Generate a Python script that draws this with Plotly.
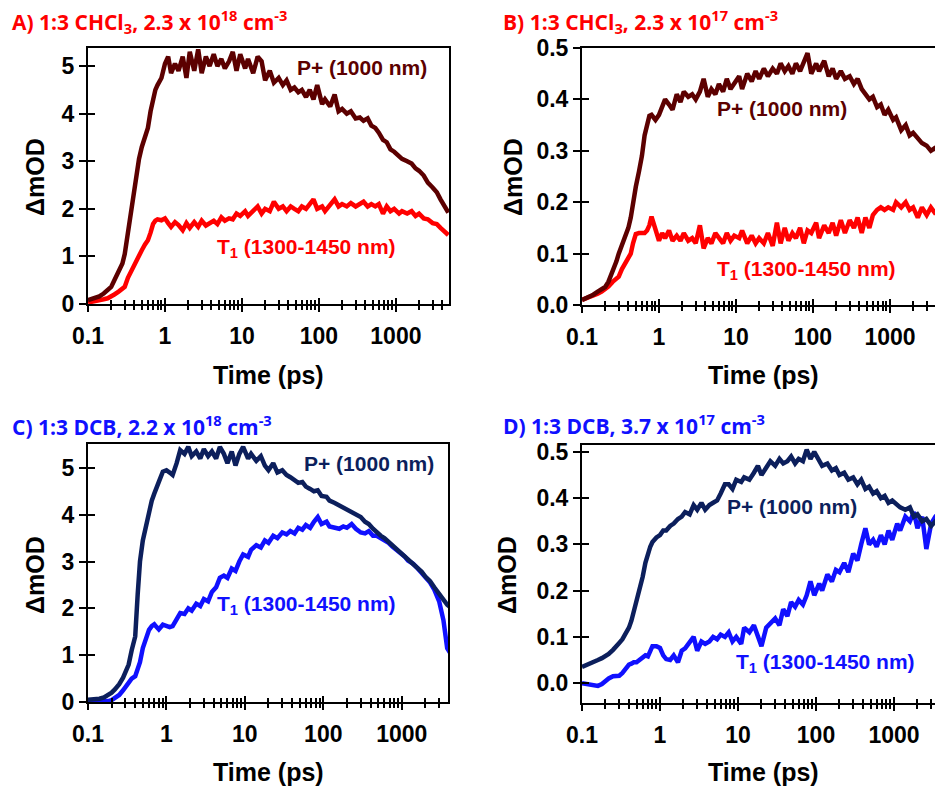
import plotly.graph_objects as go

# ---------------- data ----------------
time_ps = [0.10, 0.12, 0.14, 0.16, 0.18, 0.20, 0.22, 0.25, 0.28, 0.30, 0.33, 0.36, 0.40, 0.43, 0.46,
           0.50, 0.55, 0.60, 0.65, 0.70, 0.75, 0.80, 0.90, 1.0, 1.1, 1.2, 1.35, 1.5, 1.7, 1.9, 2.1,
           2.4, 2.7, 3.0, 3.4, 3.8, 4.3, 4.8, 5.4, 6.0, 6.8, 7.6, 8.5, 9.5, 11, 12, 14, 16, 18, 20,
           23, 26, 30, 34, 38, 43, 48, 54, 60, 68, 76, 85, 95, 110, 120, 140, 160, 180, 200, 230,
           260, 300, 340, 380, 430, 480, 540, 600, 680, 760, 850, 950, 1100, 1200, 1400, 1600,
           1800, 2000, 2300, 2600, 3000, 3400, 3800, 4300, 4800]

a_pplus = [0.08, 0.12, 0.16, 0.22, 0.28, 0.36, 0.5, 0.7, 0.85, 1.05, 1.5, 1.95, 2.45, 2.75, 3.05,
           3.3, 3.5, 3.7, 4.05, 4.35, 4.5, 4.6, 4.75, 5.05, 5.2, 4.85, 5.05, 4.9, 5.2, 4.75, 5.3,
           4.9, 5.35, 4.85, 5.2, 5.0, 5.25, 5.0, 5.15, 4.95, 5.1, 5.3, 4.9, 5.25, 4.95, 5.15, 4.85,
           5.2, 5.1, 4.7, 4.9, 4.65, 4.75, 4.6, 4.7, 4.5, 4.55, 4.45, 4.5, 4.35, 4.5, 4.3, 4.6,
           4.2, 4.3, 4.15, 4.4, 4.05, 4.1, 4.0, 4.05, 3.9, 3.92, 3.85, 3.9, 3.75, 3.7, 3.6, 3.45,
           3.4, 3.25, 3.2, 3.1, 3.05, 3.0, 2.95, 2.85, 2.8, 2.7, 2.55, 2.45, 2.35, 2.2, 2.05, 1.92]
a_t1 = [0.03, 0.05, 0.07, 0.1, 0.12, 0.15, 0.2, 0.26, 0.32, 0.36, 0.55, 0.68, 0.85, 0.95, 1.05,
        1.13, 1.25, 1.34, 1.5, 1.68, 1.75, 1.78, 1.76, 1.8, 1.7, 1.62, 1.72, 1.66, 1.55, 1.7, 1.6,
        1.72, 1.62, 1.75, 1.65, 1.7, 1.75, 1.68, 1.82, 1.75, 1.8, 1.78, 1.9, 1.85, 1.95, 1.85, 1.95,
        2.05, 1.9, 2.0, 1.95, 2.15, 2.0, 2.05, 1.95, 2.05, 2.0, 1.95, 2.05, 2.0, 2.1, 2.2, 2.0,
        2.05, 1.95, 2.1, 2.2, 2.05, 2.1, 2.05, 2.12, 2.05, 2.1, 2.15, 2.05, 2.1, 2.05, 2.1, 1.9,
        2.05, 1.95, 2.0, 1.9, 1.95, 1.9, 1.95, 1.85, 1.9, 1.8, 1.78, 1.7, 1.68, 1.6, 1.52, 1.45]

b_pplus = [0.01, 0.015, 0.02, 0.026, 0.03, 0.035, 0.045, 0.065, 0.085, 0.1, 0.115, 0.13, 0.15, 0.17,
           0.2, 0.23, 0.26, 0.29, 0.33, 0.355, 0.368, 0.37, 0.36, 0.37, 0.385, 0.40, 0.39, 0.38, 0.41,
           0.395, 0.415, 0.405, 0.41, 0.4, 0.415, 0.44, 0.405, 0.42, 0.41, 0.43, 0.415, 0.44, 0.42,
           0.43, 0.445, 0.42, 0.45, 0.435, 0.455, 0.44, 0.46, 0.445, 0.46, 0.45, 0.47, 0.455, 0.465,
           0.45, 0.47, 0.455, 0.475, 0.49, 0.45, 0.47, 0.455, 0.475, 0.445, 0.46, 0.44, 0.455, 0.44,
           0.445, 0.43, 0.44, 0.42, 0.41, 0.4, 0.405, 0.385, 0.39, 0.37, 0.38, 0.36, 0.365, 0.34,
           0.35, 0.33, 0.335, 0.325, 0.315, 0.31, 0.3, 0.305, 0.3, 0.3]
b_t1 = [0.01, 0.014, 0.018, 0.022, 0.026, 0.03, 0.036, 0.045, 0.05, 0.055, 0.07, 0.08, 0.088, 0.1,
        0.12, 0.138, 0.14, 0.14, 0.14, 0.145, 0.155, 0.172, 0.15, 0.125, 0.14, 0.13, 0.145, 0.125,
        0.135, 0.125, 0.14, 0.125, 0.13, 0.12, 0.155, 0.11, 0.13, 0.12, 0.14, 0.13, 0.12, 0.14,
        0.125, 0.135, 0.13, 0.145, 0.12, 0.135, 0.12, 0.13, 0.12, 0.14, 0.115, 0.16, 0.12, 0.15,
        0.125, 0.14, 0.13, 0.15, 0.12, 0.145, 0.14, 0.16, 0.13, 0.155, 0.14, 0.16, 0.135, 0.165,
        0.14, 0.165, 0.15, 0.17, 0.14, 0.17, 0.15, 0.175, 0.185, 0.19, 0.185, 0.19, 0.185, 0.2,
        0.19, 0.2, 0.185, 0.19, 0.17, 0.19, 0.175, 0.19, 0.18, 0.185, 0.18]

c_pplus = [0.05, 0.06, 0.07, 0.1, 0.14, 0.2, 0.27, 0.38, 0.52, 0.62, 0.8, 1.1, 1.4, 2.3, 3.0, 3.45,
           3.8, 4.1, 4.3, 4.45, 4.6, 4.7, 4.92, 4.95, 4.9, 4.85, 5.1, 5.38, 5.3, 5.45, 5.25, 5.35,
           5.2, 5.4, 5.25, 5.35, 5.2, 5.45, 5.3, 5.1, 5.35, 5.05, 5.3, 5.45, 5.2, 5.3, 5.15, 5.25,
           5.05, 4.95, 5.1, 4.9, 4.95, 4.85, 4.8, 4.75, 4.68, 4.7, 4.6, 4.55, 4.5, 4.52, 4.4, 4.38,
           4.3, 4.25, 4.2, 4.15, 4.12, 4.05, 4.0, 3.95, 3.85, 3.8, 3.7, 3.62, 3.55, 3.5, 3.42, 3.35,
           3.28, 3.22, 3.12, 3.05, 2.95, 2.88, 2.78, 2.68, 2.58, 2.45, 2.3, 2.18, 2.08, 2.0, 1.95]
c_t1 = [0.0, 0.0, 0.01, 0.01, 0.02, 0.04, 0.08, 0.15, 0.25, 0.33, 0.42, 0.5, 0.55, 0.68, 0.85, 1.15,
        1.38, 1.54, 1.62, 1.66, 1.6, 1.55, 1.65, 1.62, 1.6, 1.62, 1.75, 1.9, 1.88, 2.0, 1.95, 2.1,
        2.05, 2.2, 2.15, 2.35, 2.45, 2.65, 2.7, 2.65, 2.85, 2.8, 3.0, 3.15, 3.1, 3.25, 3.35, 3.3,
        3.45, 3.4, 3.55, 3.5, 3.62, 3.58, 3.65, 3.6, 3.72, 3.68, 3.78, 3.72, 3.85, 3.95, 3.8, 3.85,
        3.75, 3.72, 3.7, 3.75, 3.72, 3.8, 3.7, 3.62, 3.6, 3.65, 3.55, 3.55, 3.5, 3.45, 3.4, 3.32,
        3.25, 3.2, 3.1, 3.02, 2.95, 2.85, 2.75, 2.65, 2.55, 2.4, 2.15, 1.75, 1.15, 1.0, 1.0]

d_pplus = [0.035, 0.04, 0.045, 0.05, 0.054, 0.058, 0.063, 0.072, 0.08, 0.087, 0.095, 0.105, 0.12,
           0.135, 0.155, 0.18, 0.2, 0.23, 0.26, 0.28, 0.295, 0.305, 0.315, 0.32, 0.33, 0.33, 0.34,
           0.345, 0.355, 0.36, 0.37, 0.365, 0.385, 0.375, 0.39, 0.375, 0.385, 0.39, 0.395, 0.41,
           0.43, 0.43, 0.42, 0.44, 0.435, 0.445, 0.44, 0.455, 0.47, 0.45, 0.465, 0.48, 0.47, 0.485,
           0.475, 0.48, 0.49, 0.475, 0.485, 0.48, 0.505, 0.485, 0.5, 0.48, 0.47, 0.475, 0.46, 0.465,
           0.45, 0.455, 0.44, 0.445, 0.43, 0.44, 0.42, 0.425, 0.41, 0.415, 0.4, 0.405, 0.39, 0.395,
           0.385, 0.38, 0.375, 0.38, 0.36, 0.365, 0.35, 0.355, 0.34, 0.35, 0.34, 0.345, 0.34]
d_t1 = [0.0, -0.002, -0.006, -0.006, -0.002, 0.005, 0.01, 0.015, 0.015, 0.016, 0.022, 0.03, 0.04,
        0.042, 0.045, 0.045, 0.05, 0.055, 0.06, 0.058, 0.07, 0.08, 0.08, 0.076, 0.06, 0.052, 0.05,
        0.06, 0.045, 0.07, 0.075, 0.09, 0.1, 0.07, 0.09, 0.085, 0.09, 0.1, 0.095, 0.105, 0.1, 0.11,
        0.09, 0.1, 0.085, 0.12, 0.11, 0.125, 0.1, 0.08, 0.12, 0.13, 0.14, 0.125, 0.16, 0.145, 0.175,
        0.165, 0.18, 0.17, 0.19, 0.22, 0.19, 0.215, 0.2, 0.235, 0.22, 0.245, 0.24, 0.26, 0.24, 0.28,
        0.265, 0.3, 0.335, 0.3, 0.31, 0.295, 0.32, 0.3, 0.33, 0.31, 0.345, 0.33, 0.36, 0.35, 0.37,
        0.335, 0.36, 0.29, 0.345, 0.36, 0.37, 0.37, 0.37]

x_tick_vals = [0.1, 1, 10, 100, 1000]
x_tick_text = ["0.1", "1", "10", "100", "1000"]
x_minor_vals = [m * d for d in (0.1, 1, 10, 100, 1000) for m in (2, 3, 4, 5, 6, 7, 8, 9)]

panel_titles = [
    "A) 1:3 CHCl<sub>3</sub>, 2.3 x 10<sup>18</sup> cm<sup>-3</sup>",
    "B) 1:3 CHCl<sub>3</sub>, 2.3 x 10<sup>17</sup> cm<sup>-3</sup>",
    "C) 1:3 DCB, 2.2 x 10<sup>18</sup> cm<sup>-3</sup>",
    "D) 1:3 DCB, 3.7 x 10<sup>17</sup> cm<sup>-3</sup>",
]
pplus_label = "P+ (1000 nm)"
t1_label = "T<sub>1</sub> (1300-1450 nm)"
x_title = "Time (ps)"
y_title = "ΔmOD"

# ---------------- layout geometry (pixels of the 935x786 page) ----------------
W, H = 935, 786
RED, MAROON = "#ff0000", "#5c0000"
BLUE, NAVY = "#1010ff", "#0c1f5c"

panels = [
    dict(series=(a_pplus, a_t1), cols=(MAROON, RED), title_col=RED,
         px=(88, 449), py=(48, 304), xr=[-1, 3.69], yr=[0, 5.38],
         yt=[0, 1, 2, 3, 4, 5], yfmt="d", mirror_y=True,
         lab_p=(2.56, 4.98), lab_t=(1.84, 1.18), title_xy=(10, 22),
         xt_xy=(268, 375), yt_xy=(35, 177)),
    dict(series=(b_pplus, b_t1), cols=(MAROON, RED), title_col=RED,
         px=(582, 935), py=(48, 305), xr=[-1, 3.585], yr=[0, 0.5],
         yt=[0, 0.1, 0.2, 0.3, 0.4, 0.5], yfmt=".1f", mirror_y=False,
         lab_p=(1.6, 0.383), lab_t=(1.92, 0.068), title_xy=(501, 22),
         xt_xy=(763, 375), yt_xy=(513, 177)),
    dict(series=(c_pplus, c_t1), cols=(NAVY, BLUE), title_col=BLUE,
         px=(88, 448), py=(444, 702), xr=[-1, 3.59], yr=[0, 5.51],
         yt=[0, 1, 2, 3, 4, 5], yfmt="d", mirror_y=True,
         lab_p=(2.58, 5.1), lab_t=(1.79, 2.07), title_xy=(10, 425),
         xt_xy=(268, 772), yt_xy=(35, 575)),
    dict(series=(d_pplus, d_t1), cols=(NAVY, BLUE), title_col=BLUE,
         px=(582, 935), py=(445, 703), xr=[-1, 3.526], yr=[-0.043, 0.515],
         yt=[0, 0.1, 0.2, 0.3, 0.4, 0.5], yfmt=".1f", mirror_y=False,
         lab_p=(1.69, 0.381), lab_t=(2.12, 0.043), title_xy=(501, 424),
         xt_xy=(763, 772), yt_xy=(507, 575)),
]

TICKFONT = dict(family="Liberation Sans, Arial", size=23, color="black", weight="bold")
TITLEFONT = dict(family="Liberation Sans, Arial", size=25, color="black", weight="bold")


def key(c, n):
    return f"{c}axis" if n == 1 else f"{c}axis{n}"


def ref(c, n):
    return c if n == 1 else f"{c}{n}"


fig = go.Figure()
layout = {}
annotations = []

for i, p in enumerate(panels):
    n = i + 1
    ov = n + 4
    xd = [p["px"][0] / W, p["px"][1] / W]
    yd = [1 - p["py"][1] / H, 1 - p["py"][0] / H]
    pp, tt = p["series"]
    cp, ct = p["cols"]
    fig.add_trace(go.Scatter(x=time_ps, y=tt, mode="lines", line=dict(color=ct, width=4.5),
                             xaxis=ref("x", n), yaxis=ref("y", n), showlegend=False))
    fig.add_trace(go.Scatter(x=time_ps, y=pp, mode="lines", line=dict(color=cp, width=4.5),
                             xaxis=ref("x", n), yaxis=ref("y", n), showlegend=False))
    # empty traces on overlay axes so their inside ticks are drawn
    fig.add_trace(go.Scatter(x=[None], y=[None], xaxis=ref("x", ov), yaxis=ref("y", n),
                             showlegend=False, hoverinfo="skip"))
    fig.add_trace(go.Scatter(x=[None], y=[None], xaxis=ref("x", n), yaxis=ref("y", ov),
                             showlegend=False, hoverinfo="skip"))

    layout[key("x", n)] = dict(
        type="log", range=p["xr"], domain=xd, anchor=ref("y", n), automargin=False,
        showline=True, linecolor="black", linewidth=2, mirror=True,
        showgrid=False, zeroline=False,
        ticks="outside", ticklen=6, tickwidth=2, tickcolor="black",
        tickvals=x_tick_vals, ticktext=x_tick_text, tickfont=TICKFONT,
        ticklabelstandoff=4,
        minor=dict(ticks="outside", ticklen=4, tickwidth=1.5, tickcolor="black",
                   tickvals=x_minor_vals, showgrid=False),
    )
    layout[key("x", ov)] = dict(
        type="log", range=p["xr"], domain=xd, anchor=ref("y", n), overlaying=ref("x", n),
        side="bottom", showline=False, showgrid=False, zeroline=False, automargin=False,
        ticks="inside", ticklen=6, tickwidth=2, tickcolor="black",
        tickvals=x_tick_vals, showticklabels=False,
        minor=dict(ticks="inside", ticklen=4, tickwidth=1.5, tickcolor="black",
                   tickvals=x_minor_vals, showgrid=False),
    )
    layout[key("y", n)] = dict(
        range=p["yr"], domain=yd, anchor=ref("x", n), automargin=False,
        showline=True, linecolor="black", linewidth=2, mirror=p["mirror_y"],
        showgrid=False, zeroline=False,
        ticks="outside", ticklen=7, tickwidth=2, tickcolor="black",
        tickvals=p["yt"], tickformat=p["yfmt"], tickfont=TICKFONT,
    )
    layout[key("y", ov)] = dict(
        range=p["yr"], domain=yd, anchor=ref("x", n), overlaying=ref("y", n), side="left",
        showline=False, showgrid=False, zeroline=False, automargin=False,
        ticks="inside", ticklen=7, tickwidth=2, tickcolor="black",
        tickvals=p["yt"], showticklabels=False,
    )

    # curve labels
    annotations.append(dict(x=p["lab_p"][0], y=p["lab_p"][1], xref=ref("x", n), yref=ref("y", n),
                            text=pplus_label, showarrow=False,
                            font=dict(family="Liberation Sans, Arial", size=21, color=cp,
                                      weight="bold")))
    annotations.append(dict(x=p["lab_t"][0], y=p["lab_t"][1], xref=ref("x", n), yref=ref("y", n),
                            text=t1_label, showarrow=False,
                            font=dict(family="Liberation Sans, Arial", size=21, color=ct,
                                      weight="bold")))
    # panel title
    annotations.append(dict(x=p["title_xy"][0] / W, y=1 - p["title_xy"][1] / H,
                            xref="paper", yref="paper", xanchor="left", yanchor="middle",
                            text=panel_titles[i], showarrow=False,
                            font=dict(family="Open Sans", size=21, color=p["title_col"],
                                      weight="bold")))
    # axis titles
    annotations.append(dict(x=p["xt_xy"][0] / W, y=1 - p["xt_xy"][1] / H,
                            xref="paper", yref="paper", xanchor="center", yanchor="middle",
                            text=x_title, showarrow=False, font=TITLEFONT))
    annotations.append(dict(x=p["yt_xy"][0] / W, y=1 - p["yt_xy"][1] / H,
                            xref="paper", yref="paper", xanchor="center", yanchor="middle",
                            text=y_title, textangle=-90, showarrow=False, font=TITLEFONT))

fig.update_layout(
    width=W, height=H, margin=dict(l=0, r=0, t=0, b=0, autoexpand=False),
    paper_bgcolor="white", plot_bgcolor="white",
    showlegend=False, annotations=annotations, **layout,
)

fig.write_html("out.html")
